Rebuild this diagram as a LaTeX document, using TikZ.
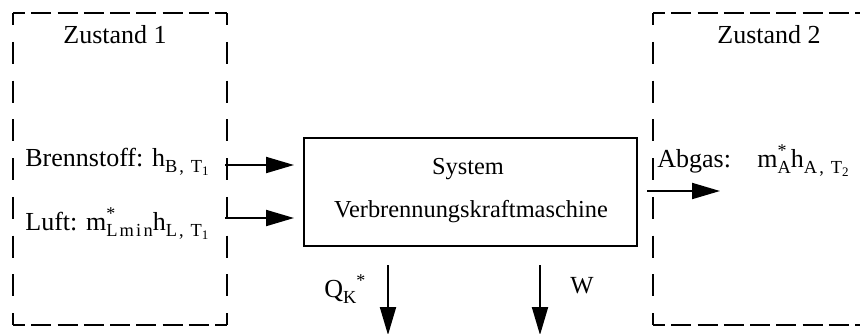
\documentclass[tikz,border=0pt]{standalone}
\usepackage{fontspec}
\setmainfont{Liberation Serif}
\newfontfamily\subfont[LetterSpace=12]{Liberation Serif}
\usetikzlibrary{arrows.meta}
% subscript, sub-subscript and star superscript
\newcommand{\sbs}[1]{\raisebox{-3pt}{\subfont\fontsize{9.2}{10}\selectfont #1}}
\newcommand{\sbsb}[1]{\raisebox{-1.5pt}{\fontsize{6.5}{7}\selectfont #1}}
\newcommand{\sps}{\raisebox{5.5pt}{\fontsize{9}{10}\selectfont *}}
\begin{document}
\begin{tikzpicture}[x=0.5pt,y=-0.5pt,
  lbl/.style={inner sep=0pt, anchor=base west, font=\fontsize{13}{15}\selectfont},
  clbl/.style={inner sep=0pt, anchor=base, font=\fontsize{12.2}{14}\selectfont},
  hdash/.style={line width=1pt, dash pattern=on 10pt off 3.125pt, dash phase=4pt},
  vdash/.style={line width=1pt, dash pattern=on 11pt off 8.375pt, dash phase=5pt},
  sysbox/.style={draw, line width=1pt, minimum width=166.5pt, minimum height=54pt, inner sep=0pt},
  flow/.style={line width=1pt, -{Triangle[length=14pt,width=8pt]}},
  ]
\useasboundingbox (0,0) rectangle (860,333);
% state box 1
\draw[hdash] (13,13) -- (227,13);
\draw[hdash] (13,325) -- (227,325);
\draw[vdash] (13,13) -- (13,325);
\draw[vdash] (227,13) -- (227,325);
% state box 2 (open to the right)
\draw[hdash] (653,13) -- (860,13);
\draw[hdash] (653,325) -- (860,325);
\draw[vdash] (653,13) -- (653,325);
% system
\node[sysbox] (sys) at (470.5,192) {};
\node[clbl] (t1) at (468,174) {System};
\node[clbl] (t2) at (471,217) {Verbrennungskraftmaschine};
% labels
\node[lbl] (z1) at (63,43) {Zustand 1};
\node[lbl] (z2) at (717,43) {Zustand 2};
\node[lbl] (br) at (25,166) {Brennstoff: h\sbs{B, T\sbsb{1}}};
\node[lbl] (lu) at (25,230) {Luft: m\rlap{\sps}\sbs{Lmin}h\sbs{L, T\sbsb{1}}};
\node[lbl] (ab) at (657,167) {Abgas:};
\node[lbl] (abv) at (757,167) {m\rlap{\sps}\sbs{A}h\sbs{A, T\sbsb{2}}};
\node[lbl] (q) at (324,297) {Q\sbs{K}\sps};
\node[lbl, font=\fontsize{12.3}{14}\selectfont] (w) at (570,293) {W};
% connectors
\coordinate (b0) at (225,165);
\coordinate (b1) at (294,165);
\coordinate (l0) at (225,218);
\coordinate (l1) at (294,218);
\coordinate (a0) at (647,191);
\coordinate (a1) at (720,191);
\coordinate (q0) at (388,265);
\coordinate (q1) at (388,335);
\coordinate (w0) at (540,265);
\coordinate (w1) at (540,335);
\draw[flow] (b0) -- (b1);
\draw[flow] (l0) -- (l1);
\draw[flow] (a0) -- (a1);
\draw[flow] (q0) -- (q1);
\draw[flow] (w0) -- (w1);
\end{tikzpicture}
\end{document}
